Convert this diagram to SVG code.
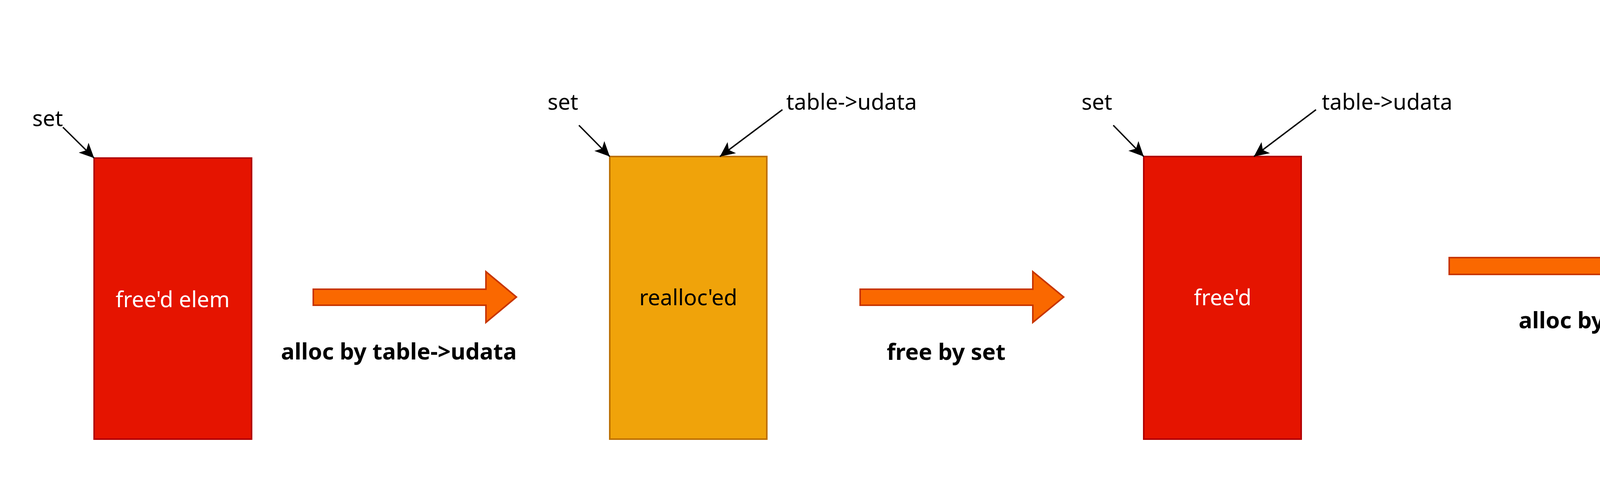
<svg xmlns="http://www.w3.org/2000/svg" width="5872" height="1240" viewBox="0 0 5872 1240">
<style>
.bg{fill:#ffffff}
.red{fill:#e51400;stroke:#b20000;stroke-width:4}
.orange{fill:#f0a30a;stroke:#bd7000;stroke-width:4}
.yellow{fill:#e3c800;stroke:#b09500;stroke-width:4}
.blue{fill:#dae8fc;stroke:#6c8ebf;stroke-width:4}
.peach{fill:#ffe6cc;stroke:#d79b00;stroke-width:4}
.barrow{fill:#fa6800;stroke:#c73500;stroke-width:4}
.c{font-family:"Comic Sans MS","Noto Sans",sans-serif;font-size:56px;fill:#000000}
.cw{font-family:"Comic Sans MS","Noto Sans",sans-serif;font-size:56px;fill:#ffffff}
.cb{font-family:"Comic Sans MS","Noto Sans",sans-serif;font-size:58px;font-weight:bold;fill:#000000}
.h{font-family:"Liberation Sans",Arial,sans-serif;font-size:46px;fill:#000000}
.hb{font-family:"Liberation Sans",Arial,sans-serif;font-size:46px;font-weight:bold;fill:#000000}
.ptr{fill:none;stroke:#000000;stroke-width:3.5}
</style>
<defs>
<marker id="ah" markerUnits="userSpaceOnUse" markerWidth="40" markerHeight="40" viewBox="0 0 38 36" refX="36" refY="18" orient="auto">
<path d="M36,18 L0,1 L9,18 L0,35 Z" fill="#000000"/>
</marker>
</defs>
<rect class="bg" x="0" y="0" width="5872" height="1240"/>

<g id="block1">
<rect class="red" x="241" y="405" width="403" height="720"/>
<text class="cw" x="442" y="787" text-anchor="middle">free'd elem</text>
</g>
<g id="label-set1"><text class="c" x="122" y="323" text-anchor="middle">set</text></g>

<g id="arrow1">
<polygon class="barrow" points="802,741 1244,741 1244,696 1322,761 1244,826 1244,782 802,782"/>
<text class="cb" x="1021" y="921" text-anchor="middle">alloc by table-&gt;udata</text>
</g>

<g id="block2">
<rect class="orange" x="1561" y="401" width="402" height="724"/>
<text class="c" x="1762" y="782" text-anchor="middle">realloc'ed</text>
</g>
<g id="label-set2"><text class="c" x="1441" y="281" text-anchor="middle">set</text></g>
<g id="label-udata2"><text class="c" x="2180" y="281" text-anchor="middle">table-&gt;udata</text></g>

<g id="arrow2">
<polygon class="barrow" points="2202,741 2644,741 2644,696 2723,761 2644,826 2644,782 2202,782"/>
<text class="cb" x="2422" y="922" text-anchor="middle">free by set</text>
</g>

<g id="block3">
<rect class="red" x="2928" y="401" width="403" height="724"/>
<text class="cw" x="3130" y="782" text-anchor="middle">free'd</text>
</g>
<g id="label-set3"><text class="c" x="2808" y="281" text-anchor="middle">set</text></g>
<g id="label-udata3"><text class="c" x="3551" y="281" text-anchor="middle">table-&gt;udata</text></g>

<g id="arrow3">
<polygon class="barrow" points="3710,660 4271,660 4271,616 4350,681 4271,747 4271,703 3710,703"/>
<text class="cb" x="4050" y="841" text-anchor="middle">alloc by obj</text>
</g>

<g id="block4">
<rect class="yellow" x="4557" y="322" width="401" height="723"/>
</g>
<g id="udata">
<rect class="blue" x="4557" y="762" width="401" height="121"/>
<text class="c" x="4758" y="842" text-anchor="middle">udata</text>
</g>
<g id="fakeops">
<rect class="peach" x="5430" y="603" width="400" height="442"/>
<text class="c" x="5628" y="845" text-anchor="middle">fake ops</text>
</g>
<g id="label-set4"><text class="c" x="4349" y="162" text-anchor="middle">set</text></g>
<g id="label-obj"><text class="h" x="4758" y="113" text-anchor="middle">obj</text></g>
<g id="label-udata4"><text class="c" x="5179" y="201" text-anchor="middle">table-&gt;udata</text></g>
<g id="label-leak"><text class="hb" x="4758" y="1152" text-anchor="middle">leak udata ptr</text></g>

<g id="connectors">
<line class="ptr" x1="161" y1="326" x2="241" y2="405" marker-end="url(#ah)"/>
<line class="ptr" x1="1482" y1="321" x2="1561" y2="401" marker-end="url(#ah)"/>
<line class="ptr" x1="2003" y1="281" x2="1843" y2="401" marker-end="url(#ah)"/>
<line class="ptr" x1="2850" y1="321" x2="2928" y2="401" marker-end="url(#ah)"/>
<line class="ptr" x1="3369" y1="281" x2="3210" y2="401" marker-end="url(#ah)"/>
<line class="ptr" x1="4415" y1="208" x2="4556" y2="321" marker-end="url(#ah)"/>
<line class="ptr" x1="4758" y1="162" x2="4758" y2="321" marker-end="url(#ah)"/>
<line class="ptr" x1="4997" y1="202" x2="4841" y2="321" marker-end="url(#ah)"/>
<polyline class="ptr" points="4958,822 5193,822 5193,524 5630,524 5630,602" marker-end="url(#ah)"/>
</g>
</svg>
